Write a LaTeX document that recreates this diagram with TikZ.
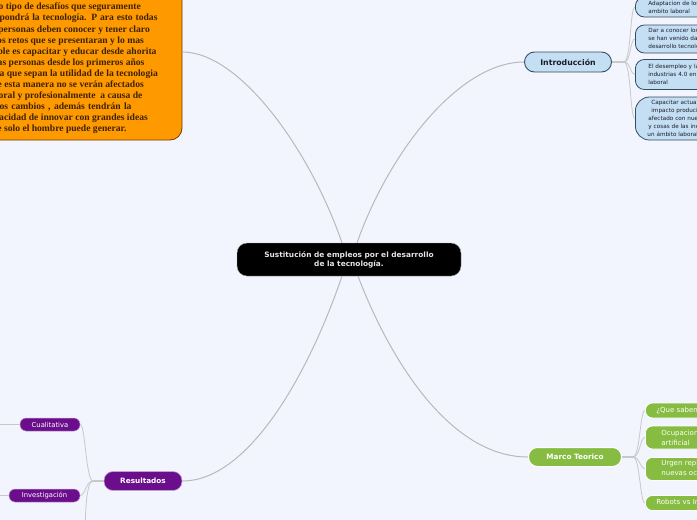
\documentclass[tikz,border=0pt]{standalone}
\usepackage{fontspec}
\setmainfont{DejaVu Sans}
\newfontfamily\oserif{Liberation Serif}
\definecolor{bg}{RGB}{242,245,253}
\definecolor{connc}{RGB}{185,185,185}
\definecolor{fanc}{RGB}{200,200,200}
\definecolor{orangef}{RGB}{255,153,0}
\definecolor{orangeb}{RGB}{110,60,0}
\definecolor{otextc}{RGB}{60,35,5}
\definecolor{bluef}{RGB}{196,223,243}
\definecolor{blueb}{RGB}{55,75,95}
\definecolor{btext}{RGB}{25,30,40}
\definecolor{greenf}{RGB}{134,188,66}
\definecolor{purplef}{RGB}{107,14,140}
\definecolor{ctext}{RGB}{228,228,228}
\tikzset{
  central/.style={draw=gray!70, fill=black, rounded corners=10pt, minimum width=224pt,
    minimum height=33pt, align=center, text=ctext, inner sep=0pt,
    font=\bfseries\fontsize{7.4}{9}\selectfont},
  introbox/.style={fill=bluef, draw=blueb, line width=0.9pt, rounded corners=10pt,
    minimum width=87pt, minimum height=20pt, inner sep=0pt, text=btext,
    font=\bfseries\fontsize{7.8}{10}\selectfont},
  marcobox/.style={fill=greenf, draw=white, line width=1pt, rounded corners=9pt,
    minimum width=93pt, minimum height=19pt, inner sep=0pt, text=white,
    font=\bfseries\fontsize{7.3}{9}\selectfont},
  resbox/.style={fill=purplef, draw=white!60!purplef, line width=0.6pt, rounded corners=9pt,
    minimum width=78pt, minimum height=19pt, inner sep=0pt, text=white,
    font=\bfseries\fontsize{7.3}{9}\selectfont},
  orangebox/.style={fill=orangef, draw=orangeb, line width=0.8pt, rounded corners=12pt,
    minimum width=242pt, minimum height=176pt, inner sep=0pt},
  otext/.style={anchor=base east, inner sep=0pt, text=otextc,
    font=\oserif\bfseries\fontsize{9.6}{11}\selectfont},
  bchild/.style={fill=bluef, draw=blueb, line width=0.8pt, rounded corners=9pt, anchor=west,
    text width=150pt, align=left, inner xsep=13pt, inner ysep=0pt, text=btext,
    font=\fontsize{5.7}{8}\selectfont},
  gchild/.style={fill=greenf, draw=white, line width=0.8pt, rounded corners=7pt, anchor=west,
    text width=150pt, align=left, inner xsep=11pt, inner ysep=0pt, text=white,
    font=\fontsize{7}{10}\selectfont},
  pchild/.style={fill=purplef, draw=white!60!purplef, line width=0.5pt, rounded corners=6pt,
    minimum height=13pt, inner sep=0pt, text=white, font=\fontsize{6.8}{8}\selectfont},
  conn/.style={draw=connc, line width=1pt},
  stub/.style={draw=fanc, line width=1.6pt},
  fan/.style={draw=fanc, line width=0.8pt},
}
\begin{document}
\begin{tikzpicture}[x=1pt, y=-1pt]
\useasboundingbox (0,0) rectangle (697,520);
\fill[bg] (0,0) rectangle (697,520);
\clip (0,0) rectangle (697,520);

% central
\node[central] (c) at (349,259.5) {Sustitución de empleos por el desarrollo\\de la tecnología.};

% orange box
\node[orangebox] (o) at (61,52) {};
\node[otext] (t1) at (141,9.8) {o tipo de desafíos que seguramente};
\node[otext] (t2) at (157.7,20.9) {\makebox[158pt][s]{pondrá la tecnología. P ara esto todas}};
\node[otext] (t3) at (150,32) {personas deben conocer y tener claro};
\node[otext] (t4) at (144,43.1) {os retos que se presentaran y lo mas};
\node[otext] (t5) at (156.7,54.2) {ble es capacitar y educar desde ahorita};
\node[otext] (t6) at (144.7,65.3) {as personas desde los primeros años};
\node[otext] (t7) at (158,76.4) {ra que sepan la utilidad de la tecnologia};
\node[otext] (t8) at (144,87.5) {e esta manera no se verán afectados};
\node[otext] (t9) at (142.7,98.6) {oral y profesionalmente\ \ a causa de};
\node[otext] (t10) at (131.7,109.7) {\makebox[132pt][s]{os cambios , además tendrán la}};
\node[otext] (t11) at (148,120.8) {acidad de innovar con grandes ideas};
\node[otext] (t12) at (126.7,131.9) {e solo el hombre puede generar.};

% main nodes
\node[introbox] (intro) at (568,62) {Introducción};
\node[marcobox] (marco) at (575,457) {Marco Teorico};
\node[resbox] (res) at (143,481) {Resultados};

% main connectors
\draw[conn] ([xshift=-7pt]c.north) .. controls (310,150) and (240,52) .. (o.east);
\draw[conn] ([xshift=8pt]c.north) .. controls (390,150) and (460,62) .. (intro.west);
\draw[conn] ([xshift=9pt]c.south) .. controls (390,360) and (450,457) .. (marco.west);
\draw[conn] ([xshift=-7pt]c.south) .. controls (310,370) and (250,481) .. (res.east);

% introduction children
\node[bchild, minimum height=20pt] (i1) at (635,7) {Adaptacion de los trabajadores al\\ambito laboral};
\node[bchild, minimum height=28pt] (i2) at (635,39) {Dar a conocer los cambios que\\se han venido dando por el\\desarrollo tecnológico};
\node[bchild, minimum height=30pt] (i3) at (635,74.5) {El desempleo y las\\industrias 4.0 en el ámbito\\laboral};
\node[bchild, minimum height=43pt, rounded corners=14pt] (i4) at (635,118.5) {\hspace*{3pt}Capacitar actualmente ante el\\\hspace*{3pt}impacto producido por el\\afectado con nuevas\\y cosas de las industrias\\\hspace*{-1pt}un ámbito laboral};

\coordinate (ifan) at (624,62);
\draw[stub] (intro.east) -- (ifan);
\foreach \k in {i1,i2,i3,i4}
  \draw[fan] (ifan) .. controls +(7,0) and +(-5,0) .. (\k.west);

% marco children
\node[gchild, minimum height=15pt] (m1) at (645,410.5) {¿Que saben de la tecnología?};
\node[gchild, minimum height=23pt, inner xsep=16pt] (m2) at (645,437.5) {Ocupaciones con inteligencia\\artificial};
\node[gchild, minimum height=23pt, inner xsep=16pt] (m3) at (645,469) {Urgen replantear las\\nuevas ocupaciones};
\node[gchild, minimum height=15pt] (m4) at (645,503) {Robots vs Inteligencia};

\coordinate (mfan) at (633,457);
\draw[stub] (marco.east) -- (mfan);
\foreach \k in {m1,m2,m3,m4}
  \draw[fan] (mfan) .. controls +(7,0) and +(-5,0) .. (\k.west);

% resultados children
\node[pchild, minimum width=60pt] (r1) at (50,424.5) {Cualitativa};
\node[pchild, minimum width=71pt] (r2) at (44.5,495.5) {Investigación};
\coordinate (rfan) at (93,481);
\coordinate (r3) at (85,545);
\coordinate (r1l) at (-5,424.5);
\coordinate (r2l) at (-5,495.5);
\draw[stub] (res.west) -- (rfan);
\draw[fan] (rfan) .. controls +(-7,0) and +(5,0) .. (r1.east);
\draw[fan] (rfan) .. controls +(-7,0) and +(5,0) .. (r2.east);
\draw[fan] (rfan) .. controls +(-7,0) and +(0,-30) .. (r3);
\draw[fan] (r1.west) -- (r1l);
\draw[fan] (r2.west) -- (r2l);
\end{tikzpicture}
\end{document}
